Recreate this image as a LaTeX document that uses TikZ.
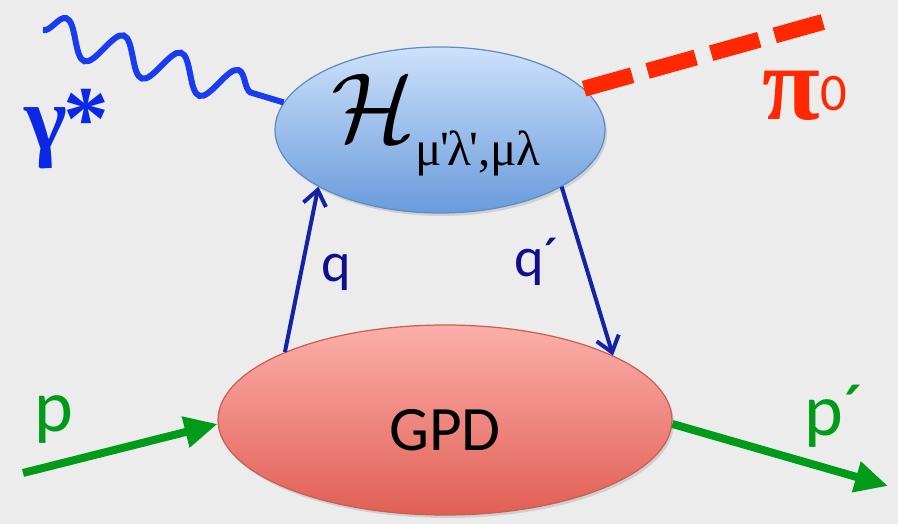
\documentclass[tikz,border=0pt]{standalone}
\usepackage{fontspec}
\setmainfont{Carlito}
\newfontfamily\grkfont{Liberation Serif}
\usetikzlibrary{shapes.geometric,decorations.pathmorphing,shadows,arrows.meta}

\definecolor{bgGray}{RGB}{236,236,236}
\definecolor{photonBlue}{RGB}{25,60,240}
\definecolor{gammaBlue}{RGB}{10,40,230}
\definecolor{pionRed}{RGB}{255,40,0}
\definecolor{protonGreen}{RGB}{0,155,25}
\definecolor{quarkBlue}{RGB}{20,35,165}
\definecolor{labelBlue}{RGB}{15,15,140}
\definecolor{hardTop}{RGB}{205,225,250}
\definecolor{hardBot}{RGB}{105,155,220}
\definecolor{hardLine}{RGB}{95,140,195}
\definecolor{gpdTop}{RGB}{252,175,170}
\definecolor{gpdBot}{RGB}{225,95,85}
\definecolor{gpdLine}{RGB}{200,95,85}

\tikzset{
  blob/.style={ellipse, line width=0.7pt,
    drop shadow={opacity=0.25, shadow xshift=0.04cm, shadow yshift=-0.06cm}},
  photon/.style={draw=photonBlue, line width=0.12cm, decorate,
    decoration={snake, segment length=1.2cm, amplitude=0.36cm, post length=0.3cm}},
  pion/.style={draw=pionRed, line width=0.32cm, dash pattern=on 1cm off 0.32cm},
  quark/.style={draw=quarkBlue, line width=0.08cm,
    -{Straight Barb[length=0.3cm, width=0.46cm]}},
  proton/.style={draw=protonGreen, line width=0.16cm,
    -{Triangle[length=0.66cm, width=0.6cm]}}
}

\begin{document}
\begin{tikzpicture}

    % Background
    \fill[bgGray] (0,0) rectangle (17.96,10.48);
    \useasboundingbox (0,0) rectangle (17.96,10.48);

    % Blobs
    \node[blob, draw=hardLine, top color=hardTop, bottom color=hardBot,
          minimum width=6.6cm, minimum height=3.32cm] (hard) at (8.8,7.88) {};
    \node[blob, draw=gpdLine, top color=gpdTop, bottom color=gpdBot,
          minimum width=9.08cm, minimum height=3.8cm] (gpd) at (8.9,2.08) {};

    % Blob labels
    \node (hardlbl) at (8.72,7.98)
        {\scalebox{5.6}{$\mathcal{H}$}\raisebox{-14pt}{\grkfont\fontsize{28}{32}\selectfont
         μ\kern-1pt\textquotesingle\kern-1pt λ\kern-1pt\textquotesingle,μλ}};
    \node (gpdlbl) at (8.9,1.88) {\fontsize{36}{40}\selectfont GPD};

    % External lines
    \coordinate (photonstart) at (0.86,9.88);
    \coordinate (pionend) at (16.6,10.08);
    \coordinate (pin) at (0.46,1.02);
    \coordinate (pout) at (17.76,0.76);

    \draw[photon] (photonstart) -- (hard.170);
    \draw[pion] (hard.16) -- (pionend);
    \draw[proton] (pin) -- (gpd.181);
    \draw[proton] (gpd.-1) -- (pout);

    % Quark lines
    \draw[quark] (gpd.157) -- (hard.205);
    \draw[quark] (hard.-25) -- (gpd.21);

    % Labels
    \node[text=gammaBlue] (gammalbl) at (1.34,7.9)
        {\grkfont\bfseries\fontsize{52}{56}\selectfont γ\kern-2pt*};
    \node[text=pionRed] (pionlbl) at (16.1,8.56)
        {{\grkfont\bfseries\fontsize{60}{64}\selectfont π}\raisebox{0.55em}{\fontsize{30}{34}\selectfont 0}};
    \node[text=protonGreen] (plbl) at (1.08,2.08) {\fontsize{42}{46}\selectfont p};
    \node[text=protonGreen] (pplbl) at (16.7,2.16) {\fontsize{42}{46}\selectfont p´};
    \node[text=labelBlue] (qlbl) at (6.72,5.04) {\fontsize{32}{36}\selectfont q};
    \node[text=labelBlue] (qqlbl) at (10.74,5.24) {\fontsize{32}{36}\selectfont q´};

\end{tikzpicture}
\end{document}
